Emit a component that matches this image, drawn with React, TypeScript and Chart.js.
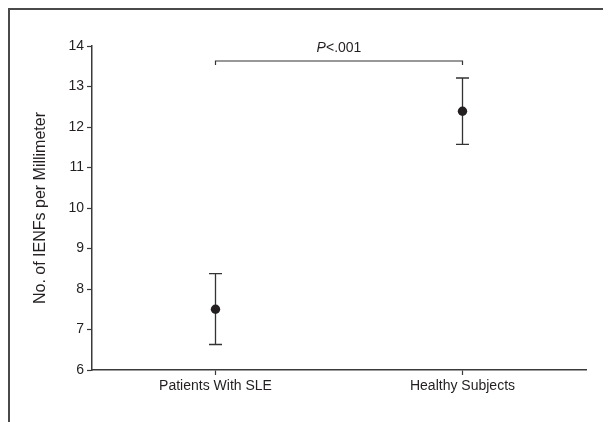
import React, { useEffect, useRef } from 'react';
import { Chart, registerables } from 'chart.js';

Chart.register(...registerables);

const categories = ['Patients With SLE', 'Healthy Subjects'];
const means = [7.5, 12.39];
const lowerCI = [6.63, 11.57];
const upperCI = [8.38, 13.21];
const yMin = 6;
const yMax = 14;
const yStep = 1;
const yTitle = 'No. of IENFs per Millimeter';
const pItalic = 'P';
const pRest = '<.001';
const bracketValue = 13.63;

const FONT = '"Liberation Sans", Arial, Helvetica, sans-serif';
const INK = '#231f20';
const AXIS = '#3a3a3a';

const annotations = {
  id: 'annotations',
  beforeDatasetsDraw(chart: any) {
    const { ctx } = chart;
    const xs = chart.scales.x;
    const ys = chart.scales.y;
    ctx.save();
    ctx.strokeStyle = '#333333';
    ctx.lineWidth = 1.3;
    categories.forEach((_c, i) => {
      const px = xs.getPixelForValue(i);
      const top = ys.getPixelForValue(upperCI[i]);
      const bot = ys.getPixelForValue(lowerCI[i]);
      ctx.beginPath();
      ctx.moveTo(px, top);
      ctx.lineTo(px, bot);
      ctx.moveTo(px - 6.5, top);
      ctx.lineTo(px + 6.5, top);
      ctx.moveTo(px - 6.5, bot);
      ctx.lineTo(px + 6.5, bot);
      ctx.stroke();
    });
    ctx.restore();
  },
  afterDraw(chart: any) {
    const { ctx } = chart;
    const xs = chart.scales.x;
    const ys = chart.scales.y;
    const x1 = xs.getPixelForValue(0);
    const x2 = xs.getPixelForValue(1);
    const yb = ys.getPixelForValue(bracketValue);
    ctx.save();
    ctx.strokeStyle = '#333333';
    ctx.lineWidth = 1.2;
    ctx.beginPath();
    ctx.moveTo(x1, yb + 4);
    ctx.lineTo(x1, yb);
    ctx.lineTo(x2, yb);
    ctx.lineTo(x2, yb + 4);
    ctx.stroke();
    ctx.fillStyle = INK;
    ctx.textBaseline = 'alphabetic';
    ctx.textAlign = 'left';
    const italicFont = `italic 14px ${FONT}`;
    const normalFont = `14px ${FONT}`;
    ctx.font = italicFont;
    const w1 = ctx.measureText(pItalic).width;
    ctx.font = normalFont;
    const w2 = ctx.measureText(pRest).width;
    const cx = (x1 + x2) / 2;
    const start = cx - (w1 + w2) / 2;
    const baseY = yb - 8.5;
    ctx.font = italicFont;
    ctx.fillText(pItalic, start, baseY);
    ctx.font = normalFont;
    ctx.fillText(pRest, start + w1, baseY);
    ctx.restore();
  },
};

export default function App() {
  const ref = useRef<HTMLCanvasElement>(null);

  useEffect(() => {
    if (!ref.current) return;
    const chart = new Chart(ref.current, {
      type: 'line',
      data: {
        labels: categories,
        datasets: [
          {
            data: means,
            showLine: false,
            pointRadius: 4.7,
            pointHoverRadius: 4.7,
            pointBackgroundColor: INK,
            pointBorderColor: INK,
            pointBorderWidth: 0,
          },
        ],
      },
      options: {
        animation: false,
        responsive: false,
        maintainAspectRatio: false,
        layout: { padding: { left: 0, right: 25, top: 36, bottom: 0 } },
        plugins: {
          legend: { display: false },
          tooltip: { enabled: false },
          title: { display: false },
        },
        scales: {
          x: {
            type: 'category',
            offset: true,
            grid: {
              display: true,
              offset: false,
              drawOnChartArea: false,
              drawTicks: true,
              tickLength: 5,
              tickWidth: 1.2,
              tickColor: AXIS,
            },
            border: { display: true, color: AXIS, width: 1.5 },
            ticks: {
              color: INK,
              font: { family: FONT, size: 14 },
              padding: 3,
              maxRotation: 0,
            },
            afterFit: (s: any) => {
              s.height = 52;
            },
          },
          y: {
            min: yMin,
            max: yMax,
            grid: {
              display: true,
              drawOnChartArea: false,
              drawTicks: true,
              tickLength: 5,
              tickWidth: 1.2,
              tickColor: AXIS,
            },
            border: { display: true, color: AXIS, width: 1.5 },
            ticks: {
              stepSize: yStep,
              color: INK,
              font: { family: FONT, size: 14 },
              padding: 3,
            },
            title: {
              display: true,
              text: yTitle,
              color: INK,
              font: { family: FONT, size: 16 },
              padding: { top: 21, bottom: 0 },
            },
            afterFit: (s: any) => {
              s.width = 82;
            },
          },
        },
      },
      plugins: [annotations],
    });
    return () => chart.destroy();
  }, []);

  return (
    <div
      style={{
        width: 603,
        height: 414,
        boxSizing: 'border-box',
        borderTop: '2px solid #4a4a4a',
        borderLeft: '2px solid #4a4a4a',
        overflow: 'hidden',
        background: '#ffffff',
      }}
    >
      <canvas ref={ref} width={601} height={412} style={{ display: 'block' }} />
    </div>
  );
}
